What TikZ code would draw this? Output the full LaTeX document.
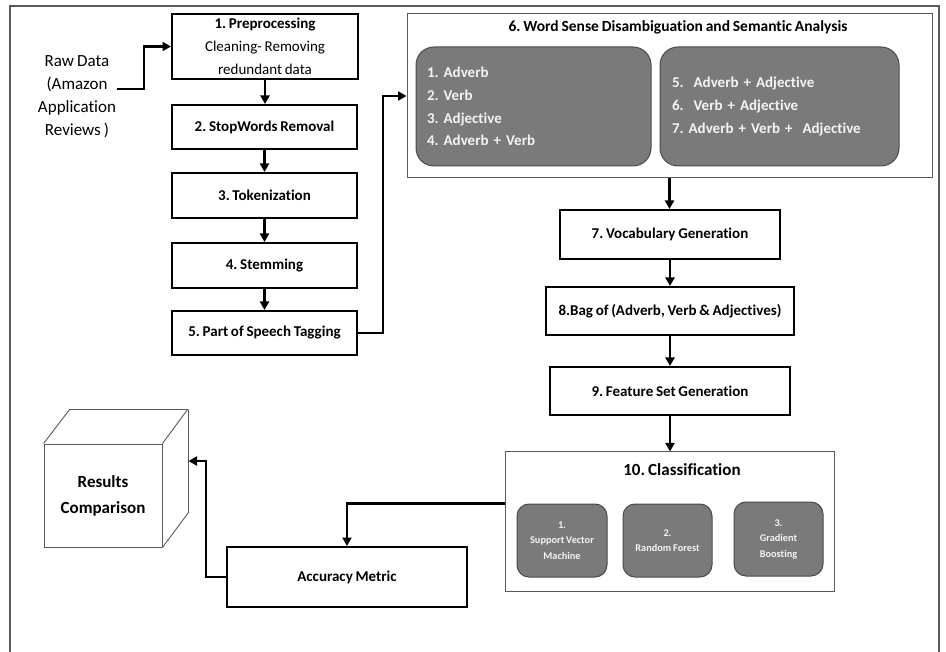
\documentclass[tikz,border=0pt]{standalone}
\usepackage{fontspec}
\setmainfont{Carlito}[Ligatures={NoCommon}, WordSpace=0.8]
\usetikzlibrary{arrows.meta,calc}
\definecolor{subfill}{HTML}{7A7A7A}
\definecolor{subdraw}{HTML}{4A4A4A}
\definecolor{framegray}{HTML}{5A5A5A}
\definecolor{subtext}{HTML}{F4F4F4}
\frenchspacing
\begin{document}
\begin{tikzpicture}[x=1pt,y=-1pt,
  mainbox/.style={draw=black, line width=2pt, fill=white, align=center, inner sep=0pt,
    font=\bfseries\fontsize{15}{23}\selectfont},
  groupbox/.style={draw=framegray, line width=1pt, fill=white, inner sep=0pt},
  bigsub/.style={draw=subdraw, line width=1pt, fill=subfill, rounded corners=18pt,
    text=subtext, align=left, inner sep=0pt, font=\bfseries\fontsize{15}{22.7}\selectfont},
  smallsub/.style={draw=subdraw, line width=1pt, fill=subfill, rounded corners=12pt,
    text=subtext, align=center, inner sep=0pt, font=\bfseries\fontsize{10.3}{15.5}\selectfont,
    minimum height=73pt},
  conn/.style={line width=2.6pt, -{Triangle[length=8.5pt,width=9pt]}},
  cubeline/.style={draw=framegray, line width=0.9pt}
]
\useasboundingbox (0,0) rectangle (946,652);
% outer frame
\draw[draw=framegray, line width=2pt] (10,652) -- (10,6) -- (939,6) -- (939,652);

% raw data
\node[align=center, font=\fontsize{17}{23}\selectfont] (raw) at (77,96.5)
  {Raw Data\\(Amazon\\Application\\Reviews )};
\coordinate (rawend) at (117,89);

% left column
\node[mainbox, minimum width=186pt, minimum height=65pt, font=\fontsize{15}{23}\selectfont] (b1) at (265,46.5)
  {\textbf{1. Preprocessing}\\Cleaning- Removing\\redundant data};
\node[mainbox, minimum width=185pt, minimum height=44pt] (b2) at (264.5,127) {2. StopWords Removal};
\node[mainbox, minimum width=185pt, minimum height=45pt] (b3) at (264.5,195.5) {3. Tokenization};
\node[mainbox, minimum width=185pt, minimum height=45pt] (b4) at (264.5,265.5) {4. Stemming};
\node[mainbox, minimum width=185pt, minimum height=44pt] (b5) at (264.5,333) {5. Part of Speech Tagging};

% box 6
\node[groupbox, minimum width=525pt, minimum height=164pt] (b6) at (669.5,96) {};
\node[font=\bfseries\fontsize{15.5}{18}\selectfont, inner sep=0pt] (t6) at (678,27)
  {6. Word Sense Disambiguation and Semantic Analysis};
\node[bigsub, minimum width=235pt, minimum height=119pt, text width=213pt] (s6a) at (533.5,106.5)
  {1. Adverb\\2. Verb\\3. Adjective\\4. Adverb + Verb};
\node[bigsub, minimum width=239pt, minimum height=119pt, text width=215pt] (s6b) at (779.5,106.5)
  {\raisebox{-2pt}{5.\ \ Adverb + Adjective}\\\raisebox{-2pt}{6.\ \ Verb + Adjective}\\\raisebox{-2pt}{7. Adverb + Verb +\ \ Adjective}};

% middle column
\node[mainbox, minimum width=220pt, minimum height=49pt] (b7) at (670,234.5) {7. Vocabulary Generation};
\node[mainbox, minimum width=248pt, minimum height=48pt] (b8) at (670,311) {8.Bag of (Adverb, Verb \& Adjectives)};
\node[mainbox, minimum width=240pt, minimum height=48pt] (b9) at (670,391) {9. Feature Set Generation};

% box 10
\node[groupbox, minimum width=329pt, minimum height=139pt] (b10) at (669.5,521.5) {};
\node[font=\bfseries\fontsize{17}{20}\selectfont, inner sep=0pt] (t10) at (682,470) {10. Classification};
\node[smallsub, minimum width=90pt] (svm) at (562,540.5) {1.\\Support Vector\\Machine};
\node[smallsub, minimum width=89pt] (rf) at (667.5,540.5) {2.\\Random Forest};
\node[smallsub, minimum width=89pt, minimum height=74pt] (gb) at (778.5,539) {3.\\Gradient\\Boosting};

% accuracy
\node[mainbox, minimum width=240pt, minimum height=60pt] (acc) at (347,577) {Accuracy Metric};

% cube
\node[cubeline, fill=white, minimum width=118pt, minimum height=103pt, align=center, inner sep=0pt,
  font=\bfseries\fontsize{17}{26}\selectfont] (cube) at (103,495.5) {Results\\Comparison};
\draw[cubeline, line join=round] (cube.north west) -- ++(26,-34) -- ++(118,0) -- (cube.north east);
\draw[cubeline, line join=round] ($(cube.north east)+(26,-34)$) -- ++(0,103) -- (cube.south east);
\coordinate (cubein) at (188.5,461);

% connectors
\draw[conn] (rawend) -- ++(27,0) |- (b1.west);
\draw[conn] (b1.south) -- (b1.south |- b2.north);
\draw[conn] (b2.south) -- (b2.south |- b3.north);
\draw[conn] (b3.south) -- (b3.south |- b4.north);
\draw[conn] (b4.south) -- (b4.south |- b5.north);
\draw[conn] (b5.east) -- ++(25,0) |- (b6.west);
\draw[conn] (b6.south) -- (b6.south |- b7.north);
\draw[conn] (b7.south) -- (b7.south |- b8.north);
\draw[conn] (b8.south) -- (b8.south |- b9.north);
\draw[conn] (b9.south) -- (b9.south |- b10.north);
\draw[conn] (b10.west |- svm.north) -| (acc.north);
\draw[conn] (acc.west) -- ++(-20,0) |- (cubein);
\end{tikzpicture}
\end{document}
